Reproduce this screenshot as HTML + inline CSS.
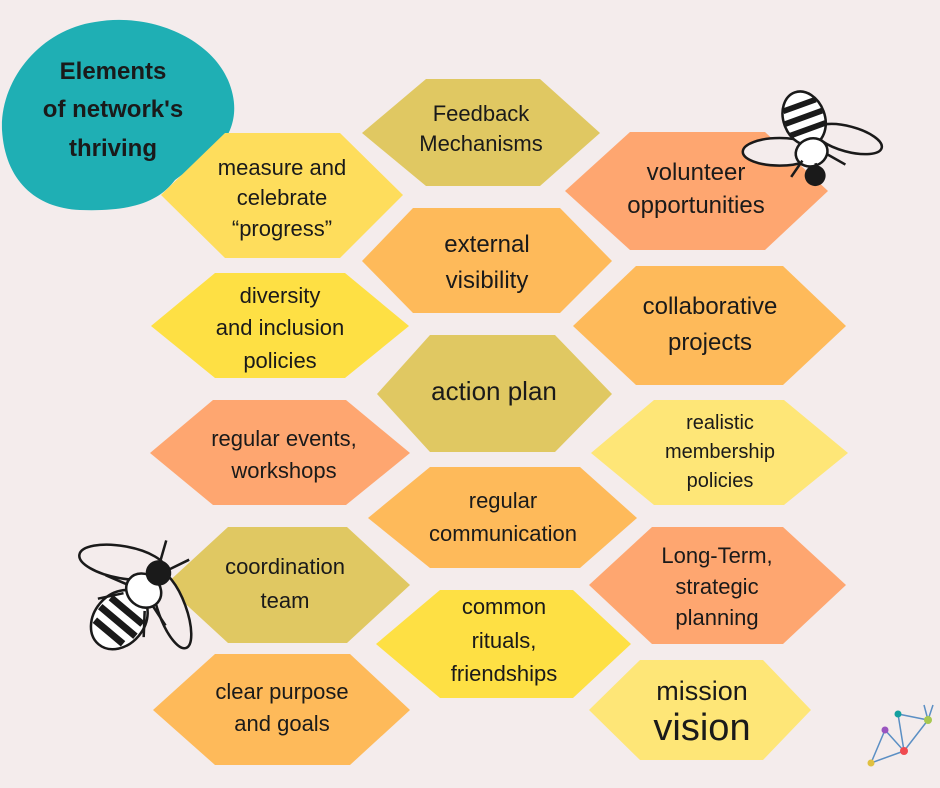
<!DOCTYPE html>
<html><head><meta charset="utf-8"><style>
html,body{margin:0;padding:0;background:#f4ecec;}
svg{display:block}
text{font-family:"Liberation Sans",sans-serif;fill:#1a1a1a;text-anchor:middle;}
</style></head><body>
<svg width="940" height="788" viewBox="0 0 940 788" xmlns="http://www.w3.org/2000/svg">
<rect width="940" height="788" fill="#f4ecec"/>
<path d="M95,22 C150,12 210,38 228,80 C245,120 225,150 195,165 L175,180 C160,200 135,212 80,210 C35,208 5,180 2,130 C0,80 40,30 95,22 Z" fill="#1fafb4"/>
<g font-weight="bold" font-size="24">
<text x="113" y="79">Elements</text>
<text x="113" y="117">of network's</text>
<text x="113" y="156">thriving</text>
</g>
<g>
<polygon points="161,195 225,133 340,133 403,195 340,258 225,258" fill="#fedd5c"/>
<polygon points="362,133 426,79 540,79 600,133 540,186 426,186" fill="#e0c862"/>
<polygon points="565,191 630,132 765,132 828,191 765,250 630,250" fill="#fea670"/>
<polygon points="362,261 413,208 560,208 612,261 560,313 413,313" fill="#feba5a"/>
<polygon points="151,326 215,273 345,273 409,326 345,378 215,378" fill="#fee044"/>
<polygon points="573,326 636,266 783,266 846,326 783,385 636,385" fill="#feba5a"/>
<polygon points="377,394 430,335 555,335 612,394 555,452 430,452" fill="#e0c862"/>
<polygon points="591,453 654,400 784,400 848,453 784,505 654,505" fill="#fee677"/>
<polygon points="150,453 213,400 346,400 410,453 346,505 213,505" fill="#fea670"/>
<polygon points="368,518 430,467 580,467 637,518 580,568 430,568" fill="#feba5a"/>
<polygon points="589,585 652,527 783,527 846,585 783,644 652,644" fill="#fea670"/>
<polygon points="165,585 228,527 347,527 410,585 347,643 228,643" fill="#e0c862"/>
<polygon points="376,644 440,590 573,590 631,644 573,698 440,698" fill="#fee044"/>
<polygon points="153,710 215,654 350,654 410,710 350,765 215,765" fill="#feba5a"/>
<polygon points="589,710 640,660 763,660 811,710 763,760 640,760" fill="#fee677"/>
</g>
<g font-size="22">
<text x="282" y="175">measure and</text>
<text x="282" y="205">celebrate</text>
<text x="282" y="236">“progress”</text>
<text x="481" y="121">Feedback</text>
<text x="481" y="151">Mechanisms</text>
<text x="696" y="180" font-size="24">volunteer</text>
<text x="696" y="213" font-size="24">opportunities</text>
<text x="487" y="252" font-size="24">external</text>
<text x="487" y="288" font-size="24">visibility</text>
<text x="280" y="303">diversity</text>
<text x="280" y="335">and inclusion</text>
<text x="280" y="368">policies</text>
<text x="710" y="314" font-size="24">collaborative</text>
<text x="710" y="350" font-size="24">projects</text>
<text x="494" y="400" font-size="26">action plan</text>
<text x="720" y="429" font-size="20">realistic</text>
<text x="720" y="458" font-size="20">membership</text>
<text x="720" y="487" font-size="20">policies</text>
<text x="284" y="446">regular events,</text>
<text x="284" y="478">workshops</text>
<text x="503" y="508">regular</text>
<text x="503" y="541">communication</text>
<text x="717" y="563">Long-Term,</text>
<text x="717" y="594">strategic</text>
<text x="717" y="625">planning</text>
<text x="285" y="574">coordination</text>
<text x="285" y="608">team</text>
<text x="504" y="614">common</text>
<text x="504" y="648">rituals,</text>
<text x="504" y="681">friendships</text>
<text x="282" y="699">clear purpose</text>
<text x="282" y="731">and goals</text>
<text x="702" y="700" font-size="27">mission</text>
<text x="702" y="740" font-size="38">vision</text>
</g>
<!-- bee top right -->
<g transform="translate(812,140) rotate(-20) scale(1.15)" stroke="#1a1a1a" stroke-width="2.2" fill="#f4ecec">
<ellipse cx="-30" cy="0" rx="32" ry="12" transform="rotate(20 -30 0)"/>
<ellipse cx="30" cy="10" rx="30" ry="11" transform="rotate(35 30 10)"/>
<ellipse cx="0" cy="-20" rx="18" ry="24" fill="#fff"/>
<path d="M-15,-32 h30 M-17,-21 h34 M-16,-10 h32" stroke-width="5"/>
<ellipse cx="-4" cy="10" rx="14" ry="12" fill="#fff"/>
<circle cx="-8" cy="30" r="8" fill="#1a1a1a"/>
<path d="M-14,14 l-14,10 M8,16 l12,14 M-4,20 l-2,16" fill="none"/>
</g>
<!-- bee bottom left -->
<g transform="translate(140,595) rotate(40) scale(1.15)" stroke="#1a1a1a" stroke-width="2.2" fill="#f4ecec">
<ellipse cx="-30" cy="-12" rx="38" ry="14" transform="rotate(-30 -30 -12)"/>
<ellipse cx="30" cy="-8" rx="35" ry="12" transform="rotate(30 30 -8)"/>
<ellipse cx="0" cy="28" rx="22" ry="28" fill="#fff"/>
<path d="M-18,18 h36 M-20,30 h40 M-16,42 h32" stroke-width="6"/>
<ellipse cx="0" cy="-5" rx="16" ry="14" fill="#fff"/>
<circle cx="0" cy="-25" r="10" fill="#1a1a1a"/>
<path d="M-5,-33 l-8,-18 M5,-33 l8,-18 M-14,0 l-20,6 M14,0 l20,6 M-12,8 l-14,18 M12,8 l14,18" fill="none"/>
</g>
<!-- logo -->
<g stroke="#5b8fc4" stroke-width="1.5" fill="none">
<path d="M871,763 L904,751 L885,730 L871,763 M904,751 L898,714 L928,720 L904,751 M898,714 L904,751"/>
<path d="M924,705 L928,720 L933,705"/>
</g>
<circle cx="871" cy="763" r="3.5" fill="#e0c040"/>
<circle cx="904" cy="751" r="4" fill="#f04a50"/>
<circle cx="885" cy="730" r="3.5" fill="#9a55c0"/>
<circle cx="898" cy="714" r="3.5" fill="#14a0a0"/>
<circle cx="928" cy="720" r="4" fill="#a8c850"/>
</svg>
</body></html>
